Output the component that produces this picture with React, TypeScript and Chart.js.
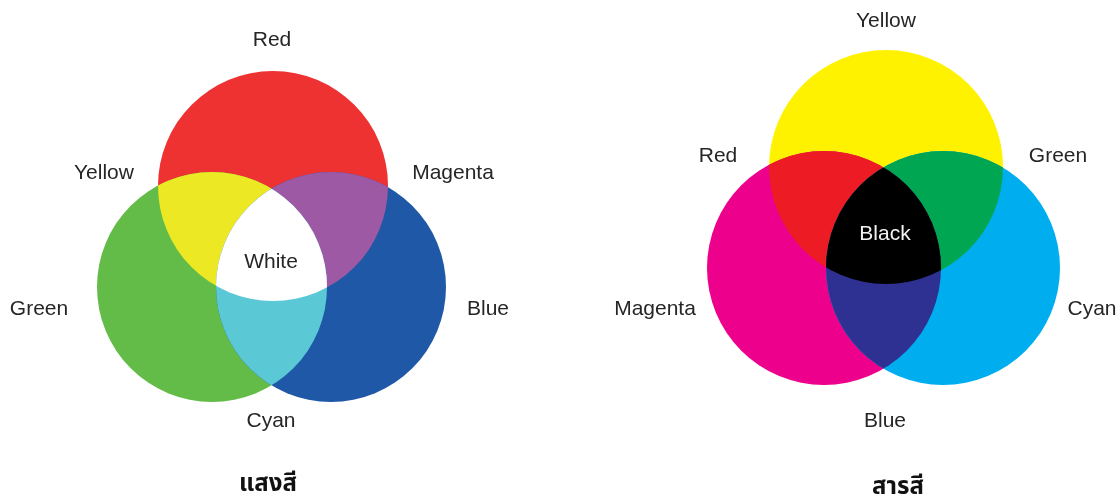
import React, { useEffect, useRef } from "react";
import { Chart, registerables } from "chart.js";

Chart.register(...registerables);

// ---- Additive (light) diagram: Red, Green, Blue circles ----
const lightNames = ["Red", "Green", "Blue"];
const lightX = [273, 212, 331];
const lightY = [186, 287, 287];
const lightR = [115, 115, 115];
const lightColors = ["#EE3131", "#63BC47", "#1F58A7"];
// pair intersections: [0,1], [0,2], [1,2]
const lightPairColors = ["#ECE824", "#9E59A4", "#5BC8D6"];
const lightCenterColor = "#FFFFFF";

// ---- Subtractive (pigment) diagram: Yellow, Magenta, Cyan circles ----
const pigmentNames = ["Yellow", "Magenta", "Cyan"];
const pigmentX = [886, 824, 943];
const pigmentY = [167, 268, 268];
const pigmentR = [117, 117, 117];
const pigmentColors = ["#FFF200", "#EC008C", "#00AEEF"];
const pigmentPairColors = ["#ED1C24", "#00A651", "#2E3192"];
const pigmentCenterColor = "#000000";

// ---- Text labels ----
const labelTexts = [
  "Red", "Yellow", "Magenta", "Green", "Blue", "Cyan", "White",
  "Yellow", "Red", "Green", "Magenta", "Cyan", "Blue", "Black",
];
const labelX = [272, 104, 453, 39, 488, 271, 271, 886, 718, 1058, 655, 1092, 885, 885];
const labelY = [40, 173, 173, 309, 309, 421, 262, 21, 156, 156, 309, 309, 421, 234];
const labelColors = [
  "#262626", "#262626", "#262626", "#262626", "#262626", "#262626", "#262626",
  "#262626", "#262626", "#262626", "#262626", "#262626", "#262626", "#F2F2F2",
];

const titleTexts = ["แสงสี", "สารสี"];
const titleX = [268, 898];
const titleY = [486, 489];

const diagrams = [
  { x: lightX, y: lightY, r: lightR, pairs: lightPairColors, center: lightCenterColor },
  { x: pigmentX, y: pigmentY, r: pigmentR, pairs: pigmentPairColors, center: pigmentCenterColor },
];

const pairIdx = [
  [0, 1],
  [0, 2],
  [1, 2],
];

export default function App() {
  const ref = useRef<HTMLCanvasElement | null>(null);

  useEffect(() => {
    if (!ref.current) return;

    const radiusPx = (chart: any, cx: number, r: number) => {
      const s = chart && chart.scales && chart.scales.x;
      if (!s) return 0;
      const v = Math.abs(s.getPixelForValue(cx + r) - s.getPixelForValue(cx));
      return isFinite(v) ? v : 0;
    };

    const vennPlugin = {
      id: "vennOverlaps",
      afterDatasetsDraw(chart: any) {
        const ctx = chart.ctx as CanvasRenderingContext2D;
        const xs = chart.scales.x;
        const ys = chart.scales.y;
        const area = chart.chartArea;
        const circlePath = (d: any, i: number) => {
          ctx.beginPath();
          ctx.arc(
            xs.getPixelForValue(d.x[i]),
            ys.getPixelForValue(d.y[i]),
            radiusPx(chart, d.x[i], d.r[i]),
            0,
            Math.PI * 2
          );
          ctx.closePath();
        };
        diagrams.forEach((d) => {
          pairIdx.forEach(([a, b], k) => {
            ctx.save();
            circlePath(d, a);
            ctx.clip();
            circlePath(d, b);
            ctx.clip();
            ctx.fillStyle = d.pairs[k];
            ctx.fillRect(area.left, area.top, area.right - area.left, area.bottom - area.top);
            ctx.restore();
          });
          ctx.save();
          [0, 1, 2].forEach((i) => {
            circlePath(d, i);
            ctx.clip();
          });
          ctx.fillStyle = d.center;
          ctx.fillRect(area.left, area.top, area.right - area.left, area.bottom - area.top);
          ctx.restore();
        });
      },
      afterDraw(chart: any) {
        const ctx = chart.ctx as CanvasRenderingContext2D;
        const xs = chart.scales.x;
        const ys = chart.scales.y;
        ctx.save();
        ctx.textAlign = "center";
        ctx.textBaseline = "middle";
        ctx.font = '21px "Liberation Sans", Arial, sans-serif';
        labelTexts.forEach((t, i) => {
          ctx.fillStyle = labelColors[i];
          ctx.fillText(t, xs.getPixelForValue(labelX[i]), ys.getPixelForValue(labelY[i]));
        });
        ctx.font = 'bold 24px "Noto Sans Thai", Tahoma, "DejaVu Sans", sans-serif';
        ctx.fillStyle = "#111";
        titleTexts.forEach((t, i) => {
          ctx.fillText(t, xs.getPixelForValue(titleX[i]), ys.getPixelForValue(titleY[i]));
        });
        ctx.restore();
      },
    };

    const makeDataset = (label: string, names: string[], xArr: number[], yArr: number[], rArr: number[], colors: string[]) => {
      const rad = (c: any) => {
        const i = c.dataIndex;
        if (i === undefined || i === null) return 0;
        return radiusPx(c.chart, xArr[i], rArr[i]);
      };
      return {
        label,
        data: names.map((n, i) => ({ x: xArr[i], y: yArr[i] })),
        showLine: false,
        pointBackgroundColor: colors,
        pointBorderWidth: 0,
        pointHoverBorderWidth: 0,
        pointRadius: rad,
        pointHoverRadius: rad,
        clip: false,
      };
    };

    const chart = new Chart(ref.current, {
      type: "scatter",
      data: {
        datasets: [
          makeDataset("Light", lightNames, lightX, lightY, lightR, lightColors),
          makeDataset("Pigment", pigmentNames, pigmentX, pigmentY, pigmentR, pigmentColors),
        ] as any,
      },
      options: {
        animation: false,
        responsive: false,
        devicePixelRatio: 1,
        events: [],
        layout: { padding: 0 },
        plugins: {
          legend: { display: false },
          tooltip: { enabled: false },
          title: { display: false },
        },
        scales: {
          x: { type: "linear", min: 0, max: 1119, display: false },
          y: { type: "linear", min: 0, max: 499, reverse: true, display: false },
        },
      } as any,
      plugins: [vennPlugin],
    });

    return () => chart.destroy();
  }, []);

  return (
    <div style={{ position: "absolute", left: 0, top: 0, width: 1119, height: 499, background: "#fff" }}>
      <canvas ref={ref} width={1119} height={499} style={{ display: "block" }} />
    </div>
  );
}
